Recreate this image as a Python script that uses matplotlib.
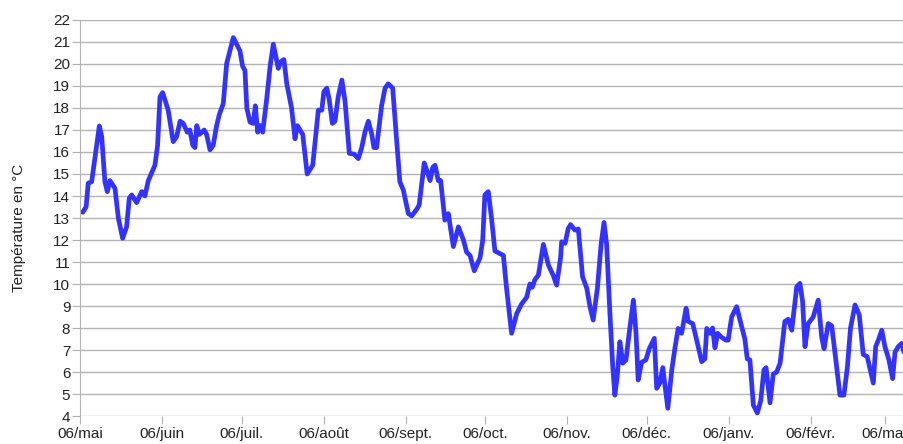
import matplotlib.pyplot as plt

# jours depuis le 06/mai
jours = [1.0, 2.3, 3.1, 4.4, 7.3, 8.2, 9.4, 10.3, 11.3, 13.2, 14.5, 16.1, 17.6, 18.6, 19.5,
         21.4, 23.3, 24.5, 25.8, 28.3, 29.3, 30.2, 31.2, 33.3, 35.2, 36.5, 37.8, 39.0, 40.5,
         41.5, 42.6, 43.4, 44.1, 45.1, 46.9, 47.8, 49.1, 50.3, 51.6, 52.6, 54.1, 55.4, 56.6,
         57.9, 60.4, 61.4, 62.3, 63.0, 64.2, 65.4, 66.2, 67.1, 68.0, 69.0, 70.5, 71.8, 73.0,
         74.9, 75.8, 77.0, 78.1, 79.9, 81.2, 82.1, 84.1, 85.8, 87.9, 90.0, 91.3, 92.1, 93.2,
         94.1, 95.3, 96.3, 97.5, 98.9, 100.1, 101.7, 103.5, 105.1, 106.4, 107.6, 108.9, 110.2,
         111.0, 112.0, 113.9, 115.2, 116.4, 118.1, 119.6, 120.8, 122.1, 124.0, 125.3, 127.2,
         128.1, 130.0, 130.9, 132.2, 133.2, 134.1, 135.3, 136.2, 137.8, 139.1, 141.0, 142.9,
         144.8, 146.0, 147.3, 148.9, 151.1, 152.1, 152.9, 154.2, 155.5, 156.7, 158.3, 159.9,
         161.1, 163.0, 164.9, 166.8, 168.7, 169.9, 170.8, 171.8, 173.1, 175.0, 176.9, 178.7,
         180.0, 181.5, 181.9, 183.2, 184.4, 185.3, 186.9, 188.2, 189.8, 191.4, 192.6, 193.8,
         195.4, 196.8, 197.9, 198.9, 200.2, 201.2, 202.0, 202.9, 203.9, 205.0, 206.2, 207.4,
         209.0, 210.0, 210.8, 212.1, 213.7, 215.0, 216.9, 217.8, 219.0, 220.1, 222.0, 223.5,
         224.7, 225.9, 227.2, 228.9, 229.7, 231.4, 232.9, 234.8, 236.0, 236.7, 237.9, 238.9,
         239.8, 240.8, 242.1, 243.9, 244.8, 246.1, 248.0, 249.6, 251.1, 252.0, 253.0, 254.3,
         255.8, 257.1, 258.3, 259.1, 260.6, 261.8, 263.1, 264.4, 266.2, 267.5, 268.8, 270.7,
         271.9, 272.9, 273.8, 275.0, 276.9, 278.8, 280.1, 281.0, 282.6, 283.9, 285.5, 287.0,
         288.5, 289.8, 291.0, 292.7, 294.3, 295.8, 297.3, 299.6, 300.5, 301.5, 302.8, 304.0,
         305.5, 306.9, 307.8, 309.0, 310.3, 311.2]

temperatures = [13.26, 13.5, 14.58, 14.65, 17.18, 16.7, 14.65, 14.2, 14.7, 14.35, 12.98, 12.08,
                12.6, 13.9, 14.05, 13.7, 14.2, 14.0, 14.7, 15.4, 16.3, 18.5, 18.7, 17.9, 16.47,
                16.7, 17.4, 17.3, 16.9, 17.0, 16.3, 16.2, 17.2, 16.8, 17.0, 16.8, 16.1, 16.3,
                17.2, 17.7, 18.2, 20.03, 20.6, 21.2, 20.6, 19.9, 19.7, 18.0, 17.36, 17.3, 18.1,
                16.9, 17.2, 16.9, 18.4, 19.9, 20.9, 19.8, 20.1, 20.2, 19.1, 18.0, 16.6, 17.2,
                16.8, 15.0, 15.4, 17.9, 17.9, 18.74, 18.9, 18.4, 17.3, 17.4, 18.5, 19.27, 18.3,
                15.94, 15.9, 15.7, 16.2, 16.9, 17.4, 16.8, 16.2, 16.2, 18.1, 18.9, 19.1, 18.9,
                16.5, 14.65, 14.27, 13.2, 13.1, 13.4, 13.6, 15.5, 15.2, 14.7, 15.3, 15.4, 14.7,
                14.7, 12.9, 13.2, 11.7, 12.6, 12.0, 11.45, 11.3, 10.6, 11.2, 12.0, 14.05, 14.2,
                12.9, 11.5, 11.4, 11.3, 9.8, 7.76, 8.65, 9.1, 9.4, 10.0, 9.85, 10.2, 10.4, 11.8,
                10.86, 10.4, 9.95, 11.2, 11.92, 11.85, 12.53, 12.7, 12.45, 12.5, 10.33, 9.8,
                8.97, 8.36, 9.8, 11.8, 12.8, 11.8, 8.5, 6.24, 4.95, 5.8, 7.38, 6.4, 6.55, 7.76,
                9.27, 7.76, 5.64, 6.44, 6.55, 7.06, 7.53, 5.26, 5.5, 6.2, 4.35, 6.1, 7.1, 7.98,
                7.76, 8.9, 8.3, 8.2, 7.45, 6.47, 6.6, 7.98, 7.76, 8.0, 7.1, 7.76, 7.6, 7.45,
                7.45, 8.5, 8.97, 8.2, 7.5, 6.6, 6.55, 4.5, 4.14, 4.7, 6.1, 6.2, 4.6, 5.9, 6.0,
                6.4, 8.3, 8.4, 7.9, 9.88, 10.03, 9.2, 7.15, 8.2, 8.5, 9.27, 7.6, 7.06, 8.2, 8.1,
                6.5, 4.95, 4.95, 6.2, 8.0, 9.05, 8.6, 6.8, 6.7, 5.5, 7.15, 7.45, 7.9, 7.15,
                6.55, 5.7, 6.9, 7.15, 7.3, 6.9]

mois_jours = [0, 31, 61, 92, 123, 153, 184, 214, 245, 276, 304]
mois_labels = ["06/mai", "06/juin", "06/juil.", "06/août", "06/sept.", "06/oct.",
               "06/nov.", "06/déc.", "06/janv.", "06/févr.", "06/mar"]

plt.rcParams['font.family'] = ['Liberation Sans', 'DejaVu Sans']

fig = plt.figure(figsize=(9.04, 4.44), dpi=100)
ax = fig.add_axes([0.0885, 0.063, 0.9115, 0.892])

ax.plot(jours, temperatures, color='#3333ff', linewidth=3.4, solid_joinstyle='round',
        solid_capstyle='round')

ax.set_xlim(0, 311.2)
ax.set_ylim(4, 22)
ax.set_yticks(range(4, 23))
ax.set_xticks(mois_jours)
ax.set_xticklabels(mois_labels)
ax.grid(axis='y', color='#b3b3b3', linewidth=1)
ax.set_axisbelow(True)

for s in ['top', 'right', 'bottom']:
    ax.spines[s].set_visible(False)
ax.spines['left'].set_color('#b3b3b3')
ax.tick_params(axis='both', colors='#b3b3b3', labelcolor='#222222', labelsize=11, length=6)
ax.tick_params(axis='x', pad=2)
ax.tick_params(axis='y', pad=1)

ax.set_ylabel("Température en °C", fontsize=11, color='#222222')
ax.yaxis.set_label_coords(-0.066, 0.475)

fig.savefig("out.png", dpi=100)
